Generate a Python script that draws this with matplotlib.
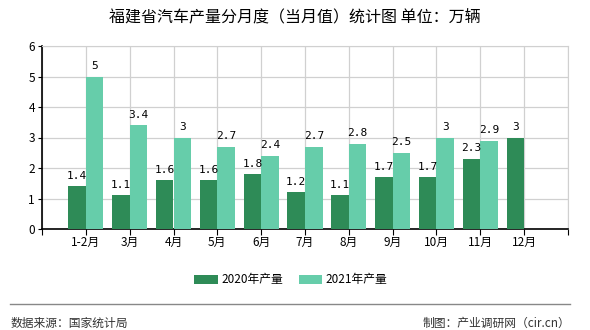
import numpy as np
import matplotlib.pyplot as plt

plt.rcParams['font.family'] = ['Noto Sans CJK SC', 'DejaVu Sans']

months = ["1-2月", "3月", "4月", "5月", "6月", "7月", "8月", "9月", "10月", "11月", "12月"]
prod_2020 = [1.4, 1.1, 1.6, 1.6, 1.8, 1.2, 1.1, 1.7, 1.7, 2.3, 3]
prod_2021 = [5, 3.4, 3, 2.7, 2.4, 2.7, 2.8, 2.5, 3, 2.9]

c2020 = "#2e8b57"
c2021 = "#66cdaa"
grid_c = "#d0d0d0"

fig = plt.figure(figsize=(5.9, 3.3), dpi=100)
ax = fig.add_axes([42/590, 1-229/330, 526/590, 183/330])

x = np.arange(len(months))
w = 0.4
b1 = ax.bar(x[:len(prod_2020)] - w/2, prod_2020, w, color=c2020, label="2020年产量", zorder=3)
b2 = ax.bar(x[:len(prod_2021)] + w/2, prod_2021, w, color=c2021, label="2021年产量", zorder=3)

# value labels above bars
for bars, vals in ((b1, prod_2020), (b2, prod_2021)):
    for r, v in zip(bars, vals):
        ax.annotate(f"{v:g}", (r.get_x() + r.get_width()/2, v), xytext=(0, 4),
                    textcoords="offset points", ha="center", va="bottom",
                    fontsize=8, family=["DejaVu Sans Mono"], zorder=4)

ax.set_xlim(-1, len(months))
ax.set_ylim(0, 6)
ax.set_xticks(np.arange(-1, len(months) + 1))
ax.set_xticklabels([""] + months + [""], fontsize=8.5)
ax.set_yticks(range(0, 7))
ax.tick_params(axis="y", labelsize=8.5, length=3, pad=2)
ax.tick_params(axis="x", length=4, pad=1)
ax.grid(True, color=grid_c, linewidth=0.9, zorder=0)
ax.set_axisbelow(True)
for s in ("top", "right"):
    ax.spines[s].set_color(grid_c)
for s in ("left", "bottom"):
    ax.spines[s].set_color("black")
    ax.spines[s].set_linewidth(1.2)

fig.text(0.5, 1-17/330, "福建省汽车产量分月度（当月值）统计图 单位：万辆",
         ha="center", va="center", fontsize=11.5)

fig.legend(handles=[b1, b2], loc="center", bbox_to_anchor=(291/590, 1-280/330),
           ncol=2, frameon=False, fontsize=8.5, handlelength=2.0, handleheight=0.8,
           columnspacing=1.3, handletextpad=0.3)

fig.add_artist(plt.Line2D([10/590, 570/590], [1-304/330, 1-304/330], color="#888888", linewidth=1))
fig.text(11/590, 1-323/330, "数据来源：国家统计局", ha="left", va="center", fontsize=8.5, color="#333333")
fig.text(570/590, 1-323/330, "制图：产业调研网（cir.cn）", ha="right", va="center", fontsize=8.5, color="#333333")

fig.savefig("out.png", dpi=100)
